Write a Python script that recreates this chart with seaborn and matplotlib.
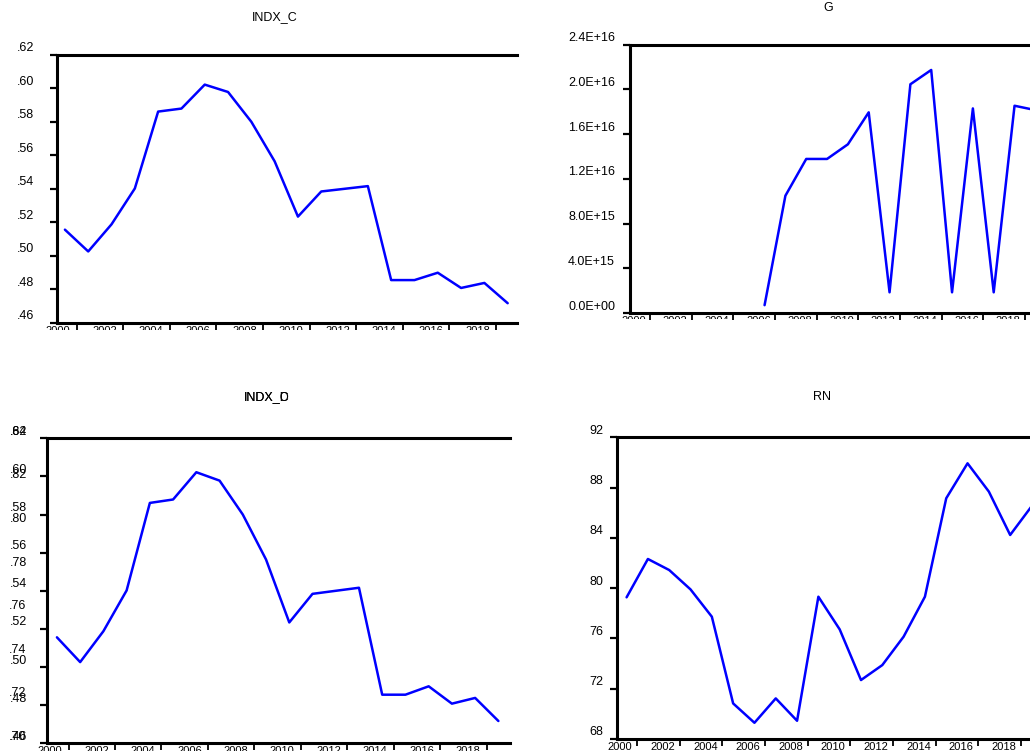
import numpy as np
import pandas as pd
import matplotlib
matplotlib.use('Agg')
import matplotlib.pyplot as plt
import seaborn as sns
from matplotlib.transforms import ScaledTranslation, Bbox, TransformedBbox

years = list(range(2000, 2020))

indx_c = [0.5156, 0.5026, 0.5188, 0.5402, 0.5861, 0.5879, 0.6022, 0.5978, 0.5800, 0.5564,
          0.5234, 0.5384, 0.5400, 0.5416, 0.4855, 0.4855, 0.4899, 0.4808, 0.4838, 0.4717]
indx_d = [0.5156, 0.5026, 0.5188, 0.5402, 0.5861, 0.5879, 0.6022, 0.5978, 0.5800, 0.5564,
          0.5234, 0.5384, 0.5400, 0.5416, 0.4855, 0.4855, 0.4899, 0.4808, 0.4838, 0.4717]
g = [np.nan, np.nan, np.nan, np.nan, np.nan, np.nan,
     7.0e14, 1.049e16, 1.378e16, 1.378e16, 1.509e16, 1.795e16, 1.85e15, 2.046e16,
     2.174e16, 1.85e15, 1.83e16, 1.85e15, 1.854e16, 1.815e16]
rn = [79.27, 82.32, 81.44, 79.90, 77.73, 70.83, 69.29, 71.23, 69.45, 79.32,
      76.72, 72.69, 73.88, 76.14, 79.32, 87.15, 89.93, 87.68, 84.23, 86.50]

label_years = [2000, 2002, 2004, 2006, 2008, 2010, 2012, 2014, 2016, 2018]

c_ticks = [0.46, 0.48, 0.50, 0.52, 0.54, 0.56, 0.58, 0.60, 0.62]
c_labels = ['.46', '.48', '.50', '.52', '.54', '.56', '.58', '.60', '.62']
d_ticks = [0.70, 0.72, 0.74, 0.76, 0.78, 0.80, 0.82, 0.84]
d_labels = ['.70', '.72', '.74', '.76', '.78', '.80', '.82', '.84']
g_ticks = [0, 4e15, 8e15, 1.2e16, 1.6e16, 2.0e16, 2.4e16]
g_labels = ['0.0E+00', '4.0E+15', '8.0E+15', '1.2E+16', '1.6E+16', '2.0E+16', '2.4E+16']
rn_ticks = [68, 72, 76, 80, 84, 88, 92]
rn_labels = ['68', '72', '76', '80', '84', '88', '92']

sns.set_style('white')
plt.rcParams['font.family'] = ['Liberation Sans', 'DejaVu Sans']
plt.rcParams['text.color'] = 'black'
plt.rcParams['xtick.color'] = 'black'
plt.rcParams['ytick.color'] = 'black'

W, H = 1030, 751
fig = plt.figure(figsize=(W / 100, H / 100), dpi=100)
shift_up = ScaledTranslation(0, 8 / 100, fig.dpi_scale_trans)


def make_axes(l, r, t, b):
    return fig.add_axes([l / W, 1 - b / H, (r - l) / W, (b - t) / H])


def style(ax, xlim, ylim, yticks, ylabels, pad_px, clip_px=None):
    ax.set_xlim(*xlim)
    ax.set_ylim(*ylim)
    for side in ['left', 'top', 'bottom']:
        ax.spines[side].set_visible(True)
        ax.spines[side].set_linewidth(2.2)
        ax.spines[side].set_color('black')
    ax.spines['right'].set_visible(False)
    ax.set_xlabel('')
    ax.set_ylabel('')
    ax.set_yticks(yticks)
    ax.set_yticklabels(ylabels)
    ax.set_xticks([y + 0.5 for y in label_years])
    ax.set_xticklabels([])
    ax.set_xticks([y - 0.3 for y in label_years], minor=True)
    ax.set_xticklabels([str(y) for y in label_years], minor=True)
    ax.tick_params(axis='y', which='major', left=True, direction='out', length=5,
                   width=1.6, color='black', labelsize=9, labelcolor='black',
                   pad=pad_px * 0.72)
    ax.tick_params(axis='x', which='major', bottom=True, direction='out', length=5,
                   width=1.3, color='black')
    ax.tick_params(axis='x', which='minor', bottom=True, length=0, labelsize=8,
                   labelcolor='black', pad=2.2)
    for lbl in ax.get_yticklabels():
        lbl.set_transform(lbl.get_transform() + shift_up)
    if clip_px is not None:
        box = TransformedBbox(Bbox.from_extents(0, 1 - clip_px / H, 1, 1), fig.transFigure)
        for lbl in ax.get_xticklabels(minor=True):
            lbl.set_clip_on(True)
            lbl.set_clip_box(box)
        for t in ax.xaxis.get_major_ticks():
            t.tick1line.set_clip_on(True)
            t.tick1line.set_clip_box(box)


blue = '#0000ff'
lw = 1.8

# INDX_C
ax1 = make_axes(57, 517, 54.8, 322.8)
sns.lineplot(x=years, y=indx_c, ax=ax1, color=blue, linewidth=lw, estimator=None)
style(ax1, (1999.66, 2019.4), (0.46, 0.62), c_ticks, c_labels, 16, clip_px=330)
fig.text(275 / W, 1 - 17 / H, 'INDX_C', ha='center', va='center', fontsize=9)

# G
ax2 = make_axes(630, 1043.7, 44.7, 313)
df_g = pd.DataFrame({'year': years, 'g': g}).dropna()
sns.lineplot(data=df_g, x='year', y='g', ax=ax2, color=blue, linewidth=lw, estimator=None)
style(ax2, (1999.54, 2019.4), (0, 2.4e16), g_ticks, g_labels, 8, clip_px=319)
fig.text(828 / W, 1 - 8 / H, 'G', ha='center', va='center', fontsize=9)

# INDX_D (two label sets drawn over each other, as in the source)
ax3 = make_axes(46.7, 510, 438.3, 743.3)
sns.lineplot(x=years, y=indx_d, ax=ax3, color=blue, linewidth=lw, estimator=None)
style(ax3, (1999.56, 2019.5), (0.46, 0.62), c_ticks, c_labels, 13)
ax3b = ax3.twinx()
ax3b.set_ylim(0.70, 0.84)
ax3b.yaxis.tick_left()
ax3b.set_yticks(d_ticks)
ax3b.set_yticklabels(d_labels)
ax3b.tick_params(axis='y', which='major', length=0, labelsize=9, labelcolor='black',
                 pad=(13 + 7) * 0.72)
for side in ax3b.spines:
    ax3b.spines[side].set_visible(False)
for lbl in ax3b.get_yticklabels():
    lbl.set_transform(lbl.get_transform() + shift_up)
fig.text(267 / W, 1 - 397 / H, 'INDX_C', ha='center', va='center', fontsize=9)
fig.text(267 / W, 1 - 397 / H, 'INDX_D', ha='center', va='center', fontsize=9)

# RN
ax4 = make_axes(617, 1040, 437.3, 739)
sns.lineplot(x=years, y=rn, ax=ax4, color=blue, linewidth=lw, estimator=None)
style(ax4, (1999.55, 2019.4), (68, 92), rn_ticks, rn_labels, 7)
fig.text(822 / W, 1 - 397 / H, 'RN', ha='center', va='center', fontsize=9)

fig.savefig('out.png', dpi=100)
